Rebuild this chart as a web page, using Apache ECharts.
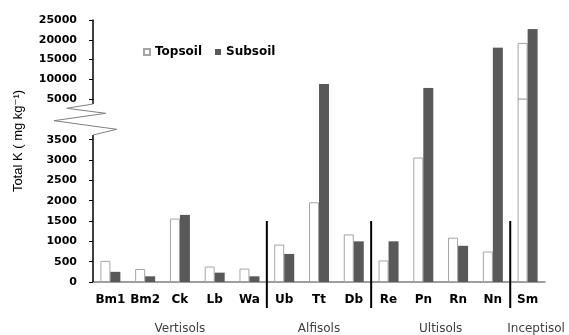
<!DOCTYPE html>
<html><head><meta charset="utf-8">
<script src="https://cdn.jsdelivr.net/npm/echarts@6/dist/echarts.min.js"></script>
<style>html,body{margin:0;padding:0;background:#fff}#c{width:569px;height:335px}</style>
</head><body><div id="c"></div>
<script>
const categories = ['Bm1','Bm2','Ck','Lb','Wa','Ub','Tt','Db','Re','Pn','Rn','Nn','Sm'];
const topsoil = [520, 320, 1560, 380, 330, 920, 1960, 1170, 530, 3060, 1090, 750, 19200];
const subsoil = [250, 140, 1650, 230, 140, 690, 8800, 1000, 1000, 7800, 890, 18000, 22700];
const lowerTicks = [0, 500, 1000, 1500, 2000, 2500, 3000, 3500];
const upperTicks = [5000, 10000, 15000, 20000, 25000];
const groupNames = ['Vertisols', 'Alfisols', 'Ultisols', 'Inceptisol'];
const groupFirst = [0, 5, 8, 12];
const groupLast = [4, 7, 11, 12];

const chart = echarts.init(document.getElementById('c'), null, {renderer: 'canvas'});
const boldFont = {fontFamily: 'DejaVu Sans', fontWeight: 'bold', color: '#000'};
const topStyle = {color: '#ffffff', borderColor: '#a5a5a5', borderWidth: 1};
const subStyle = {color: '#595959'};

function barSeries(name, data, idx, style) {
  return {name: name, type: 'bar', xAxisIndex: idx, yAxisIndex: idx, data: data,
    barWidth: 10, barGap: '0%', clip: true, itemStyle: style};
}

chart.setOption({
  animation: false,
  backgroundColor: '#fff',
  grid: [
    {left: 93, right: 24, top: 99, bottom: 53},
    {left: 93, right: 24, top: 20, height: 79}
  ],
  legend: {
    data: ['Topsoil', 'Subsoil'], left: 143, top: 46, icon: 'rect', padding: 0,
    itemWidth: 6, itemHeight: 6, itemGap: 13,
    textStyle: Object.assign({fontSize: 12}, boldFont)
  },
  xAxis: [
    {gridIndex: 0, type: 'category', data: categories,
      axisLine: {lineStyle: {color: '#7f7f7f', width: 1.5}},
      axisTick: {length: 3, lineStyle: {color: '#555'}},
      axisLabel: Object.assign({margin: 12, fontSize: 12, interval: 0, hideOverlap: false}, boldFont)},
    {gridIndex: 1, type: 'category', data: categories, show: false}
  ],
  yAxis: [
    {gridIndex: 0, type: 'value', min: 0, max: 4500, interval: 500,
      splitLine: {show: false}, axisLine: {show: false},
      axisTick: {show: true, length: 4, customValues: lowerTicks, lineStyle: {color: '#000'}},
      axisLabel: Object.assign({margin: 16, fontSize: 11, customValues: lowerTicks,
        formatter: v => (v <= 3500 ? String(v) : '')}, boldFont)},
    {gridIndex: 1, type: 'value', min: 5000, max: 25000, interval: 5000,
      splitLine: {show: false},
      axisLine: {show: true, lineStyle: {color: '#000', width: 1.5}},
      axisTick: {show: true, length: 4, customValues: upperTicks, lineStyle: {color: '#000'}},
      axisLabel: Object.assign({margin: 16, fontSize: 11, customValues: upperTicks,
        formatter: v => String(v)}, boldFont)}
  ],
  series: [
    barSeries('Topsoil', topsoil, 0, topStyle),
    barSeries('Subsoil', subsoil, 0, subStyle),
    barSeries('Topsoil', topsoil, 1, topStyle),
    barSeries('Subsoil', subsoil, 1, subStyle)
  ]
});

// decorations: broken axis, group separators, group labels, axis title
const ax = 93;
const step = chart.convertToPixel({xAxisIndex: 0}, categories[1]) - chart.convertToPixel({xAxisIndex: 0}, categories[0]);
const centerX = i => chart.convertToPixel({xAxisIndex: 0}, categories[i]);
const g = [];
g.push({type: 'line', shape: {x1: ax, y1: 135, x2: ax, y2: 282}, style: {stroke: '#000', lineWidth: 1.5}, z: 10});
g.push({type: 'line', shape: {x1: ax, y1: 99, x2: ax, y2: 104}, style: {stroke: '#000', lineWidth: 1.5}, z: 10});
g.push({type: 'polyline', shape: {points: [[ax, 135], [116.7, 129.3], [54, 120.7], [105.7, 113.3], [66.7, 108.3], [ax, 104]]},
  style: {stroke: '#808080', lineWidth: 1, fill: null}, z: 10});
for (let k = 0; k < groupNames.length - 1; k++) {
  const x = centerX(groupLast[k]) + step / 2;
  g.push({type: 'line', shape: {x1: x, y1: 221, x2: x, y2: 308}, style: {stroke: '#000', lineWidth: 2}, z: 10});
}
for (let k = 0; k < groupNames.length; k++) {
  const left = centerX(groupFirst[k]) - step / 2;
  const right = centerX(groupLast[k]) + step / 2;
  const isLast = k === groupNames.length - 1;
  g.push({type: 'text', x: isLast ? left - 3 : (left + right) / 2, y: 329,
    style: {text: groupNames[k], align: isLast ? 'left' : 'center', verticalAlign: 'middle',
      font: '12px "DejaVu Sans"', fill: '#404040'}});
}
g.push({type: 'text', x: 18, y: 141, rotation: Math.PI / 2,
  style: {text: 'Total K ( mg kg\u207B\u00B9)', align: 'center', verticalAlign: 'middle',
    font: '13px "Liberation Sans", "DejaVu Sans"', fill: '#000'}});
chart.setOption({graphic: g});
</script>
</body></html>
